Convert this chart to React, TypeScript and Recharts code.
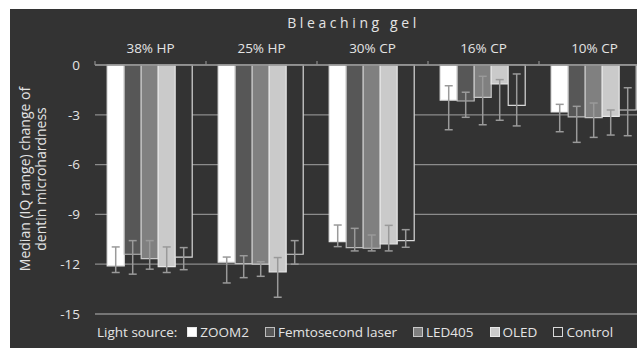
import { Bar, BarChart, CartesianGrid, ErrorBar, XAxis, YAxis } from "recharts";

const BG = "#333333";
const GRID = "#8c8c8c";
const TEXT = "#e4e4e4";
const FONT = "'Open Sans', 'Noto Sans', sans-serif";

const categories = ["38% HP", "25% HP", "30% CP", "16% CP", "10% CP"];
const yTicks = [0, -3, -6, -9, -12, -15];

// medians
const zoom2 = [-12.1, -11.87, -10.64, -2.11, -2.83];
const femto = [-11.4, -11.97, -11.0, -2.17, -3.13];
const led405 = [-11.67, -11.99, -11.04, -1.95, -3.17];
const oled = [-12.15, -12.47, -10.77, -1.14, -3.09];
const control = [-11.57, -11.4, -10.58, -2.43, -2.71];

// IQ range, lower ends
const zoom2Low = [-12.5, -13.13, -10.94, -3.9, -4.02];
const femtoLow = [-12.6, -12.81, -11.2, -3.15, -4.66];
const led405Low = [-12.3, -12.73, -11.2, -3.6, -4.36];
const oledLow = [-12.5, -13.99, -11.2, -3.33, -4.22];
const controlLow = [-12.33, -12.0, -10.98, -3.67, -4.26];

// IQ range, upper ends
const zoom2High = [-10.96, -11.57, -9.64, -1.25, -2.37];
const femtoHigh = [-10.58, -11.49, -9.84, -1.64, -2.49];
const led405High = [-10.58, -11.85, -10.24, -0.68, -2.29];
const oledHigh = [-10.96, -11.6, -9.66, -0.88, -2.71];
const controlHigh = [-11.0, -10.58, -9.92, -0.54, -1.37];

const series = [
  { key: "zoom2", name: "ZOOM2", med: zoom2, low: zoom2Low, high: zoom2High, fill: "#ffffff", stroke: "#e6e6e6" },
  { key: "femto", name: "Femtosecond laser", med: femto, low: femtoLow, high: femtoHigh, fill: "#575757", stroke: "#bdbdbd" },
  { key: "led405", name: "LED405", med: led405, low: led405Low, high: led405High, fill: "#808080", stroke: "#c8c8c8" },
  { key: "oled", name: "OLED", med: oled, low: oledLow, high: oledHigh, fill: "#cacaca", stroke: "#e8e8e8" },
  { key: "control", name: "Control", med: control, low: controlLow, high: controlHigh, fill: BG, stroke: "#d9d9d9" },
];

const data = categories.map((cat, i) => {
  const row: Record<string, unknown> = { cat };
  series.forEach((s) => {
    row[s.key] = s.med[i];
    row[s.key + "Err"] = [s.med[i] - s.low[i], s.high[i] - s.med[i]];
  });
  return row;
});

const CHART_W = 660;
const CHART_H = 348;
const TOP = 65;
const LEFT = 95;
const RIGHT = 650;
const BAND = (RIGHT - LEFT) / categories.length;

function CatTick(props: any) {
  const { x, payload } = props;
  return (
    <g>
      <text x={x} y={TOP - 12} textAnchor="middle" fill={TEXT} fontSize={13.5} fontFamily={FONT}>
        {payload.value}
      </text>
      <line x1={x - BAND / 2} x2={x - BAND / 2} y1={TOP} y2={TOP - 4} stroke={GRID} strokeWidth={1.2} />
    </g>
  );
}

export default function App() {
  return (
    <div
      style={{
        position: "absolute",
        left: 0,
        top: 0,
        width: 637,
        height: 348,
        overflow: "hidden",
        background: "#ffffff",
        fontFamily: FONT,
      }}
    >
      <div style={{ position: "absolute", left: 10, top: 9, right: 0, bottom: 0, background: BG }} />
      <div
        style={{
          position: "absolute",
          left: 0,
          width: 707,
          top: 13,
          textAlign: "center",
          color: TEXT,
          fontSize: 14,
          letterSpacing: 3.6,
        }}
      >
        Bleaching gel
      </div>
      <div
        style={{
          position: "absolute",
          left: 33,
          top: 179,
          width: 260,
          transform: "translate(-50%, -50%) rotate(-90deg)",
          textAlign: "center",
          color: TEXT,
          fontSize: 14,
          lineHeight: "16px",
        }}
      >
        Median (IQ range) change of
        <br />
        dentin microhardness
      </div>
      <div style={{ position: "absolute", left: 0, top: 0 }}>
        <BarChart
          width={CHART_W}
          height={CHART_H}
          data={data}
          margin={{ top: 35, right: CHART_W - RIGHT, bottom: 34, left: 10 }}
          barCategoryGap="11%"
          barGap={0}
        >
          <CartesianGrid stroke={GRID} strokeWidth={1.3} vertical={false} />
          <XAxis
            dataKey="cat"
            orientation="top"
            height={30}
            tick={<CatTick />}
            tickLine={false}
            axisLine={{ stroke: GRID, strokeWidth: 1.3 }}
          />
          <YAxis
            type="number"
            domain={[-15, 0]}
            ticks={yTicks}
            width={85}
            tickLine={false}
            axisLine={false}
            tickMargin={9}
            tick={{ fill: TEXT, fontSize: 13.5, fontFamily: FONT }}
          />
          {series.map((s) => (
            <Bar
              key={s.key}
              dataKey={s.key}
              name={s.name}
              fill={s.fill}
              stroke={s.stroke}
              strokeWidth={1.2}
              isAnimationActive={false}
            >
              <ErrorBar dataKey={s.key + "Err"} width={4} stroke="#9a9a9a" strokeWidth={1.5} />
            </Bar>
          ))}
        </BarChart>
      </div>
      <div
        style={{
          position: "absolute",
          left: 97,
          top: 323,
          display: "flex",
          alignItems: "center",
          whiteSpace: "nowrap",
          color: TEXT,
          fontSize: 13.5,
        }}
      >
        <span style={{ marginRight: 10 }}>Light source:</span>
        {series.map((s) => (
          <span key={s.key} style={{ display: "flex", alignItems: "center", marginRight: 16 }}>
            <span
              style={{
                display: "inline-block",
                width: 8,
                height: 8,
                background: s.fill,
                border: `1px solid ${s.stroke}`,
                marginRight: 3,
              }}
            />
            {s.name}
          </span>
        ))}
      </div>
    </div>
  );
}
